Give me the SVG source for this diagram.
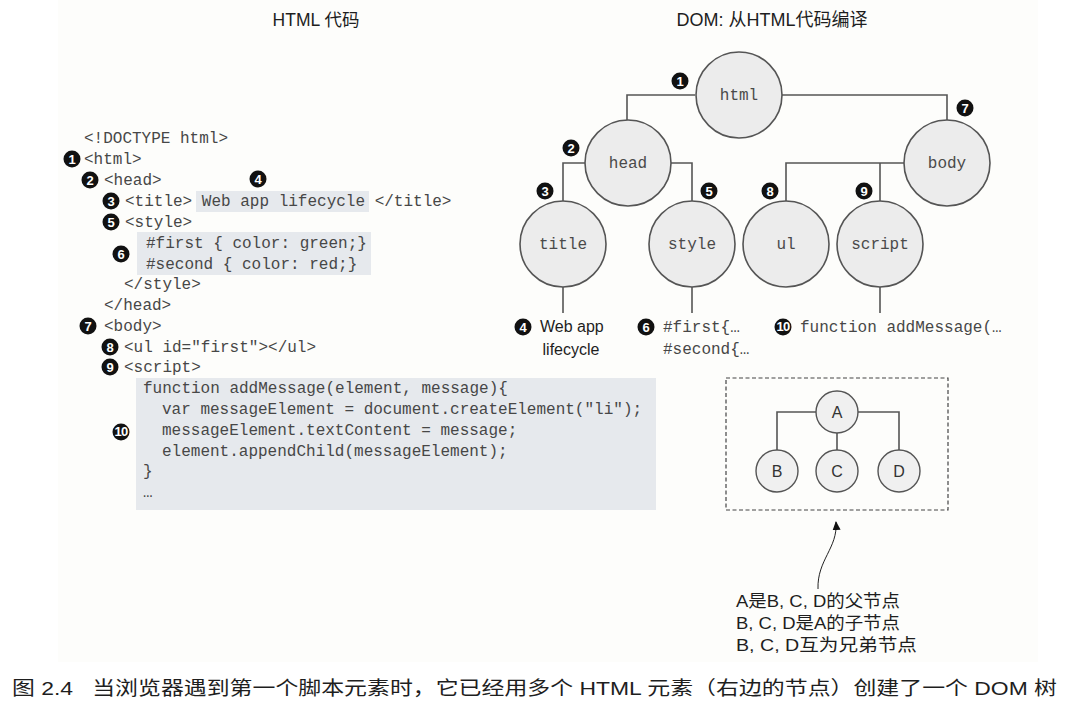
<svg xmlns="http://www.w3.org/2000/svg" width="1070" height="709" viewBox="0 0 1070 709">
<style>
.code{font-family:"Liberation Mono","DejaVu Sans Mono",monospace;font-size:16px;fill:#474747;}
.lbl{font-family:"Liberation Mono","DejaVu Sans Mono",monospace;font-size:16px;fill:#4a4a4a;text-anchor:middle;}
.sans{font-family:"Liberation Sans","Noto Sans CJK SC",sans-serif;fill:#1e1e1e;}
.hl{fill:#e6e9ed;}
.node{fill:#ececec;stroke:#555;stroke-width:1.6;}
.edge{fill:none;stroke:#555;stroke-width:1.6;}
.bul{fill:#111;}
.bnum{font-family:"Liberation Sans",sans-serif;font-weight:bold;font-size:13px;fill:#fff;text-anchor:middle;}
.small{fill:#f0f0f0;stroke:#555;stroke-width:1.4;}
.abc{font-family:"Liberation Sans",sans-serif;font-size:16px;fill:#333;text-anchor:middle;}
</style>
<defs>
<marker id="arr" markerWidth="10" markerHeight="10" refX="8" refY="5" orient="auto" markerUnits="userSpaceOnUse">
<path d="M0,1 L9,5 L0,9 Z" fill="#111"/>
</marker>
<g id="b1"><circle r="8.5" class="bul"/><text y="4.6" class="bnum">1</text></g>
<g id="b2"><circle r="8.5" class="bul"/><text y="4.6" class="bnum">2</text></g>
<g id="b3"><circle r="8.5" class="bul"/><text y="4.6" class="bnum">3</text></g>
<g id="b4"><circle r="8.5" class="bul"/><text y="4.6" class="bnum">4</text></g>
<g id="b5"><circle r="8.5" class="bul"/><text y="4.6" class="bnum">5</text></g>
<g id="b6"><circle r="8.5" class="bul"/><text y="4.6" class="bnum">6</text></g>
<g id="b7"><circle r="8.5" class="bul"/><text y="4.6" class="bnum">7</text></g>
<g id="b8"><circle r="8.5" class="bul"/><text y="4.6" class="bnum">8</text></g>
<g id="b9"><circle r="8.5" class="bul"/><text y="4.6" class="bnum">9</text></g>
<g id="b10"><circle r="8.5" class="bul"/><text y="4.3" class="bnum" font-size="11.5" letter-spacing="-0.8">10</text></g>
</defs>
<rect x="0" y="0" width="1070" height="709" fill="#ffffff"/>
<rect x="58" y="0" width="980" height="662" fill="#fdfdfb"/>

<!-- Titles -->
<text x="316" y="26" class="sans" font-size="17.5" text-anchor="middle">HTML 代码</text>
<text x="772" y="26" class="sans" font-size="18" text-anchor="middle">DOM: 从HTML代码编译</text>

<!-- HTML code -->
<g id="html-code">
<rect class="hl" x="196" y="191" width="173" height="21"/>
<rect class="hl" x="137" y="232" width="234" height="43"/>
<rect class="hl" x="136" y="378" width="520" height="132"/>
<text class="code" x="84" y="143">&lt;!DOCTYPE html&gt;</text>
<text class="code" x="84" y="164">&lt;html&gt;</text>
<text class="code" x="104" y="185">&lt;head&gt;</text>
<text class="code" x="125" y="206" xml:space="preserve">&lt;title&gt; Web app lifecycle &lt;/title&gt;</text>
<text class="code" x="125" y="227">&lt;style&gt;</text>
<text class="code" x="146" y="248">#first { color: green;}</text>
<text class="code" x="146" y="269">#second { color: red;}</text>
<text class="code" x="124" y="289">&lt;/style&gt;</text>
<text class="code" x="104" y="310">&lt;/head&gt;</text>
<text class="code" x="104" y="331">&lt;body&gt;</text>
<text class="code" x="124" y="352">&lt;ul id="first"&gt;&lt;/ul&gt;</text>
<text class="code" x="124" y="372">&lt;script&gt;</text>
<text class="code" x="143" y="393">function addMessage(element, message){</text>
<text class="code" x="162" y="414">var messageElement = document.createElement("li");</text>
<text class="code" x="162" y="435">messageElement.textContent = message;</text>
<text class="code" x="162" y="456">element.appendChild(messageElement);</text>
<text class="code" x="143" y="476">}</text>
<text class="code" x="143" y="497">…</text>
<use href="#b1" x="72" y="159"/>
<use href="#b2" x="90" y="180"/>
<use href="#b3" x="111" y="201"/>
<use href="#b4" x="258" y="179"/>
<use href="#b5" x="111" y="222"/>
<use href="#b6" x="121" y="254"/>
<use href="#b7" x="88" y="326"/>
<use href="#b8" x="110" y="347"/>
<use href="#b9" x="110" y="367"/>
<use href="#b10" x="121" y="432"/>
</g>

<!-- DOM connectors -->
<g id="connectors">
<path class="edge" d="M695,95 H627 V120"/>
<path class="edge" d="M782,95 H947 V120"/>
<path class="edge" d="M585,163 H563 V201"/>
<path class="edge" d="M671,163 H692 V201"/>
<path class="edge" d="M904,163 H786 V201"/>
<path class="edge" d="M880,163 V201"/>
<path class="edge" d="M563,287 V313"/>
<path class="edge" d="M692,287 V313"/>
<path class="edge" d="M880,287 V313"/>
</g>

<g id="node-html"><circle class="node" cx="739" cy="95" r="43"/><text class="lbl" x="739" y="100">html</text><use href="#b1" x="680" y="81"/></g>
<g id="node-head"><circle class="node" cx="628" cy="163" r="43"/><text class="lbl" x="628" y="168">head</text><use href="#b2" x="571" y="148"/></g>
<g id="node-body"><circle class="node" cx="947" cy="163" r="43"/><text class="lbl" x="947" y="168">body</text><use href="#b7" x="965" y="108"/></g>
<g id="node-title"><circle class="node" cx="563" cy="244" r="43"/><text class="lbl" x="563" y="249">title</text><use href="#b3" x="545" y="191"/></g>
<g id="node-style"><circle class="node" cx="692" cy="244" r="43"/><text class="lbl" x="692" y="249">style</text><use href="#b5" x="709" y="191"/></g>
<g id="node-ul"><circle class="node" cx="786" cy="244" r="43"/><text class="lbl" x="786" y="249">ul</text><use href="#b8" x="770" y="191"/></g>
<g id="node-script"><circle class="node" cx="880" cy="244" r="43"/><text class="lbl" x="880" y="249">script</text><use href="#b9" x="864" y="191"/></g>

<g id="leaf-title"><use href="#b4" x="523" y="327"/><text class="sans" font-size="16" x="540" y="332">Web app</text><text class="sans" font-size="16" x="571" y="355" text-anchor="middle">lifecycle</text></g>
<g id="leaf-style"><use href="#b6" x="646" y="327"/><text class="code" x="663" y="332">#first{…</text><text class="code" x="663" y="354">#second{…</text></g>
<g id="leaf-script"><use href="#b10" x="783" y="327"/><text class="code" x="800" y="332">function addMessage(…</text></g>

<!-- Legend -->
<g id="legend">
<rect x="726" y="378" width="222" height="132" fill="none" stroke="#444" stroke-width="1.2" stroke-dasharray="4,2.5"/>
<path class="edge" stroke-width="1.4" d="M777,450 V412 H899 V450 M837,433 V450"/>
<g id="node-A"><circle class="small" cx="837" cy="412" r="21"/><text class="abc" x="837" y="418">A</text></g>
<g id="node-B"><circle class="small" cx="777" cy="471" r="21"/><text class="abc" x="777" y="477">B</text></g>
<g id="node-C"><circle class="small" cx="837" cy="471" r="21"/><text class="abc" x="837" y="477">C</text></g>
<g id="node-D"><circle class="small" cx="899" cy="471" r="21"/><text class="abc" x="899" y="477">D</text></g>
</g>
<g id="annotation">
<path d="M818,589 C817,560 838,548 836,522" fill="none" stroke="#222" stroke-width="1" marker-end="url(#arr)"/>
<text class="sans" font-size="17" x="736" y="607" textLength="164" lengthAdjust="spacingAndGlyphs">A是B, C, D的父节点</text>
<text class="sans" font-size="17" x="736" y="629" textLength="164" lengthAdjust="spacingAndGlyphs">B, C, D是A的子节点</text>
<text class="sans" font-size="17" x="736" y="651" textLength="181" lengthAdjust="spacingAndGlyphs">B, C, D互为兄弟节点</text>
</g>

<!-- Caption -->
<text class="sans" font-size="19" x="12" y="695" textLength="1045" lengthAdjust="spacingAndGlyphs" xml:space="preserve">图 2.4   当浏览器遇到第一个脚本元素时，它已经用多个 HTML 元素（右边的节点）创建了一个 DOM 树</text>
</svg>
